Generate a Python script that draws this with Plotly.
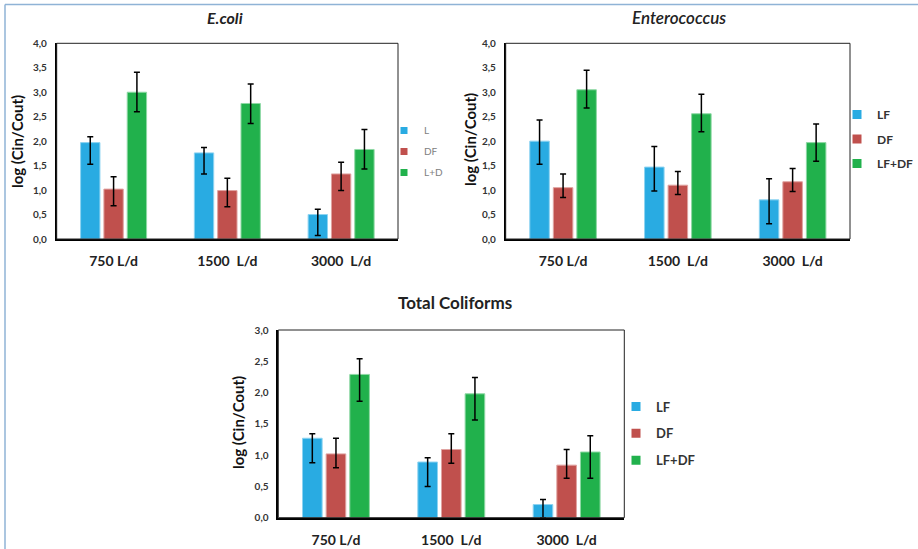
import plotly.graph_objects as go

W, H = 918, 549

categories = ["750 L/d", "1500\u00a0\u00a0L/d", "3000\u00a0\u00a0L/d"]

# E.coli
ecoli_names = ["L", "DF", "L+D"]
ecoli_L = [1.97, 1.76, 0.50]
ecoli_L_hi = [2.09, 1.87, 0.61]
ecoli_L_lo = [1.53, 1.33, 0.07]
ecoli_DF = [1.02, 0.99, 1.33]
ecoli_DF_hi = [1.27, 1.24, 1.57]
ecoli_DF_lo = [0.68, 0.66, 0.99]
ecoli_LD = [3.00, 2.77, 1.83]
ecoli_LD_hi = [3.41, 3.17, 2.24]
ecoli_LD_lo = [2.60, 2.36, 1.43]

# Enterococcus
ent_names = ["LF", "DF", "LF+DF"]
ent_LF = [2.00, 1.47, 0.80]
ent_LF_hi = [2.43, 1.89, 1.23]
ent_LF_lo = [1.53, 0.98, 0.31]
ent_DF = [1.05, 1.10, 1.17]
ent_DF_hi = [1.33, 1.38, 1.44]
ent_DF_lo = [0.85, 0.91, 0.97]
ent_LFDF = [3.05, 2.56, 1.97]
ent_LFDF_hi = [3.45, 2.96, 2.35]
ent_LFDF_lo = [2.68, 2.19, 1.59]

# Total Coliforms
tc_names = ["LF", "DF", "LF+DF"]
tc_LF = [1.27, 0.89, 0.21]
tc_LF_hi = [1.34, 0.96, 0.29]
tc_LF_lo = [0.88, 0.50, 0.00]
tc_DF = [1.02, 1.09, 0.84]
tc_DF_hi = [1.27, 1.34, 1.09]
tc_DF_lo = [0.80, 0.87, 0.63]
tc_LFDF = [2.29, 1.98, 1.05]
tc_LFDF_hi = [2.54, 2.24, 1.31]
tc_LFDF_lo = [1.86, 1.56, 0.63]

colors = ["#29ABE2", "#C0504D", "#21B14C"]
edge = ["#8DD3F1", "#E0A3A1", "#8ED8A4"]
FONT = "Lato, 'Open Sans', sans-serif"

fig = go.Figure()

def px_x(a, b):
    return [a / W, b / W]

def px_y(top, bot):
    return [1 - bot / H, 1 - top / H]

panels = [
    dict(ax="", legend="legend", names=ecoli_names,
         series=[(ecoli_L, ecoli_L_hi, ecoli_L_lo), (ecoli_DF, ecoli_DF_hi, ecoli_DF_lo), (ecoli_LD, ecoli_LD_hi, ecoli_LD_lo)],
         xd=px_x(56.7, 398.0), yd=px_y(43.3, 239.0), yr=4.0),
    dict(ax="2", legend="legend2", names=ent_names,
         series=[(ent_LF, ent_LF_hi, ent_LF_lo), (ent_DF, ent_DF_hi, ent_DF_lo), (ent_LFDF, ent_LFDF_hi, ent_LFDF_lo)],
         xd=px_x(505.7, 850.0), yd=px_y(43.3, 239.0), yr=4.0),
    dict(ax="3", legend="legend3", names=tc_names,
         series=[(tc_LF, tc_LF_hi, tc_LF_lo), (tc_DF, tc_DF_hi, tc_DF_lo), (tc_LFDF, tc_LFDF_hi, tc_LFDF_lo)],
         xd=px_x(278.3, 624.3), yd=px_y(330.0, 517.7), yr=3.0),
]

for p in panels:
    xa, ya = "x" + p["ax"], "y" + p["ax"]
    for i, (vals, hi, lo) in enumerate(p["series"]):
        fig.add_trace(go.Bar(
            x=categories, y=vals, xaxis=xa, yaxis=ya, showlegend=False,
            marker=dict(color=colors[i], line=dict(color=edge[i], width=1)),
            error_y=dict(type="data", symmetric=False,
                         array=[h - v for h, v in zip(hi, vals)],
                         arrayminus=[v - l for v, l in zip(vals, lo)],
                         color="black", thickness=1.5, width=3),
        ))
    for i, nm in enumerate(p["names"]):
        fig.add_trace(go.Scatter(
            x=[None], y=[None], xaxis=xa, yaxis=ya, mode="markers", name=nm,
            marker=dict(symbol="square", size=9 if p["ax"] else 7, color=colors[i]),
            legend=p["legend"], legendgroup=p["ax"] + nm,
        ))
    fig.layout["xaxis" + p["ax"]] = dict(
        domain=p["xd"], anchor=ya, showline=True, linecolor="black", linewidth=2,
        ticks="", showgrid=False, ticklabelstandoff=8,
        tickfont=dict(family=FONT, size=14, color="#222222", weight="bold"),
    )
    fig.layout["yaxis" + p["ax"]] = dict(
        domain=p["yd"], anchor=xa, range=[0, p["yr"]], dtick=0.5, tickformat=".1f",
        showline=True, linecolor="black", linewidth=1.5, showgrid=False, zeroline=False,
        ticks="", ticklabelstandoff=6,
        tickfont=dict(family=FONT, size=10, color="#333333", weight="bold"),
    )
    fig.add_shape(type="rect", xref=xa + " domain", yref=ya + " domain",
                  x0=0, x1=1, y0=0, y1=1, line=dict(color="#222222", width=1))

fig.update_layout(
    width=W, height=H, margin=dict(l=0, r=0, t=0, b=0, autoexpand=False),
    plot_bgcolor="white", paper_bgcolor="white",
    barmode="group", bargap=0.385, bargroupgap=0.17,
    separators=",.",
    font=dict(family=FONT),
    legend=dict(x=384 / W, y=1 - 116 / H, xanchor="left", yanchor="top",
                traceorder="grouped", tracegroupgap=2, itemwidth=30,
                font=dict(family=FONT, size=10, color="#808080"), bgcolor="rgba(0,0,0,0)"),
    legend2=dict(x=837 / W, y=1 - 100 / H, xanchor="left", yanchor="top",
                 traceorder="grouped", tracegroupgap=5.5, itemwidth=30,
                 font=dict(family=FONT, size=12, color="#333333", weight="bold"), bgcolor="rgba(0,0,0,0)"),
    legend3=dict(x=616 / W, y=1 - 391.5 / H, xanchor="left", yanchor="top",
                 traceorder="grouped", tracegroupgap=7, itemwidth=30,
                 font=dict(family=FONT, size=13, color="#333333", weight="bold"), bgcolor="rgba(0,0,0,0)"),
)

# Titles
fig.add_annotation(x=225 / W, y=1 - 17 / H, xref="paper", yref="paper", text="<b><i>E.coli</i></b>",
                   xanchor="center", yanchor="middle",
                   showarrow=False, font=dict(family=FONT, size=16, color="#222222"))
fig.add_annotation(x=679 / W, y=1 - 17 / H, xref="paper", yref="paper", text="<i>Enterococcus</i>",
                   xanchor="center", yanchor="middle",
                   showarrow=False, font=dict(family=FONT, size=17, color="#222222", weight=600))
fig.add_annotation(x=455 / W, y=1 - 303 / H, xref="paper", yref="paper", text="<b>Total Coliforms</b>",
                   xanchor="center", yanchor="middle",
                   showarrow=False, font=dict(family=FONT, size=17, color="#222222"))

# Y-axis titles
for xc, yc in [(17, 142), (470, 140), (238, 423)]:
    fig.add_annotation(x=xc / W, y=1 - yc / H, xref="paper", yref="paper", text="<b>log (Cin/Cout)</b>",
                       xanchor="center", yanchor="middle",
                       textangle=-90, showarrow=False, font=dict(family=FONT, size=15, color="#111111"))

# Light blue frame (top and left)
fig.add_shape(type="line", xref="paper", yref="paper", x0=5 / W, x1=1, y0=1 - 4.5 / H, y1=1 - 4.5 / H,
              line=dict(color="#8FB3D6", width=1.5))
fig.add_shape(type="line", xref="paper", yref="paper", x0=5 / W, x1=5 / W, y0=0, y1=1 - 4.5 / H,
              line=dict(color="#8FB3D6", width=1.5))

fig.write_html("out.html", config={"displayModeBar": False},
               post_script="document.body.style.margin='0';document.body.style.overflow='hidden';")
